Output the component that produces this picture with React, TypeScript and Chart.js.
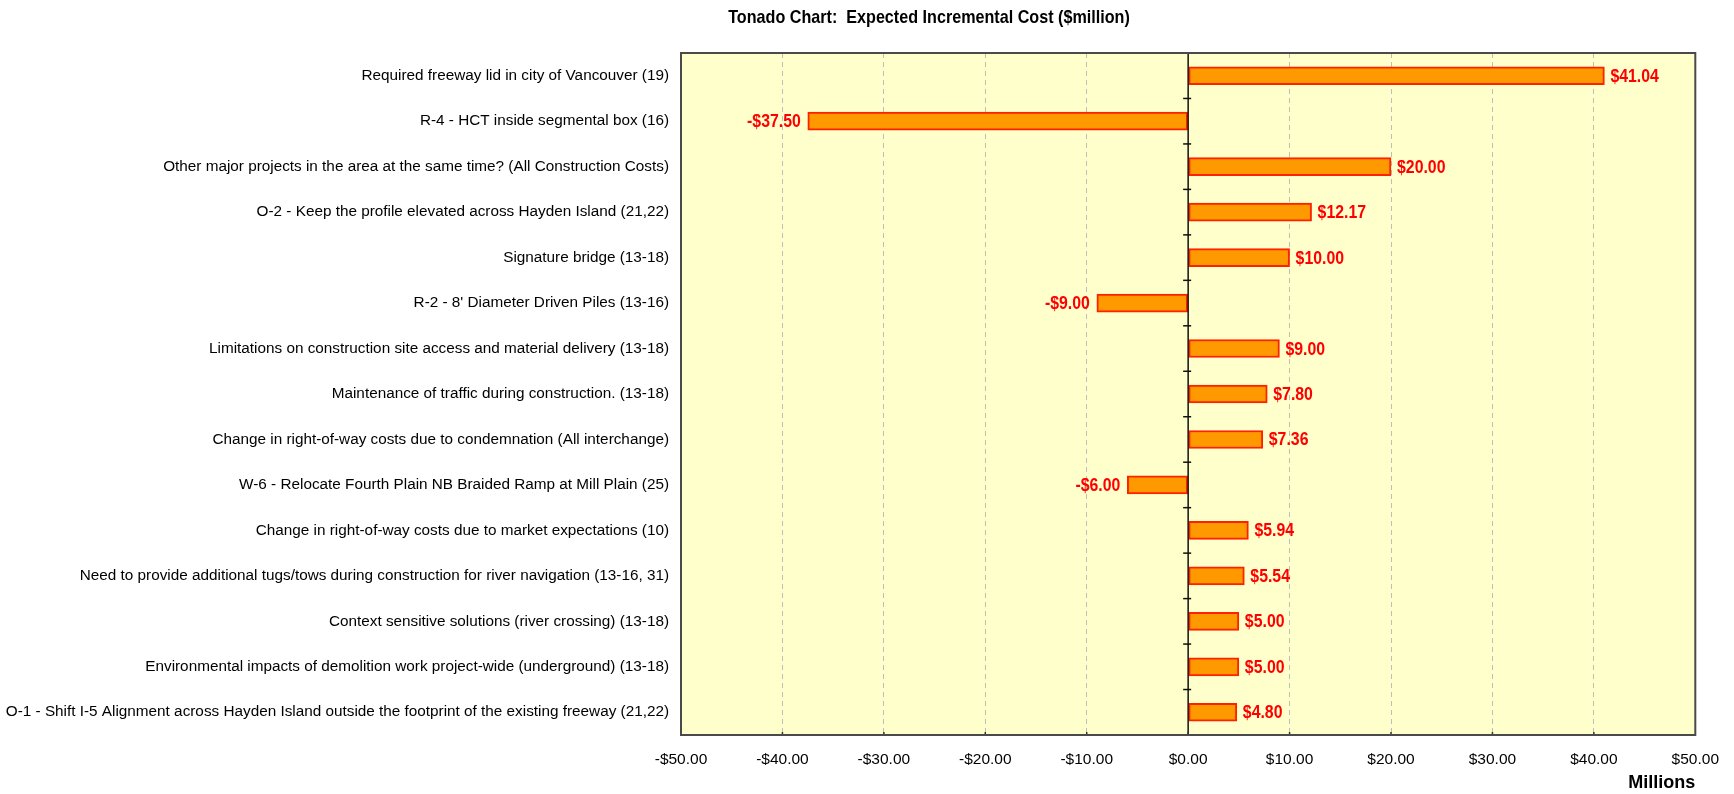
import React, { useEffect, useRef } from "react";
import { Chart, registerables } from "chart.js";

Chart.register(...registerables);

const TITLE = "Tonado Chart:  Expected Incremental Cost ($million)";
const AXIS_TITLE = "Millions";

const categories: string[] = [
  "Required freeway lid in city of Vancouver (19)",
  "R-4 - HCT inside segmental box (16)",
  "Other major projects in the area at the same time? (All Construction Costs)",
  "O-2 - Keep the profile elevated across Hayden Island (21,22)",
  "Signature bridge (13-18)",
  "R-2 - 8' Diameter Driven Piles (13-16)",
  "Limitations on construction site access and material delivery (13-18)",
  "Maintenance of traffic during construction. (13-18)",
  "Change in right-of-way costs due to condemnation (All interchange)",
  "W-6 - Relocate Fourth Plain NB Braided Ramp at Mill Plain (25)",
  "Change in right-of-way costs due to market expectations (10)",
  "Need to provide additional tugs/tows during construction for river navigation (13-16, 31)",
  "Context sensitive solutions (river crossing) (13-18)",
  "Environmental impacts of demolition work project-wide (underground) (13-18)",
  "O-1 - Shift I-5 Alignment across Hayden Island outside the footprint of the existing freeway (21,22)",
];

const costValues: number[] = [
  41.04, -37.5, 20.0, 12.17, 10.0, -9.0, 9.0, 7.8, 7.36, -6.0, 5.94, 5.54, 5.0, 5.0, 4.8,
];

const xMin = -50;
const xMax = 50;
const xStep = 10;

const money = (v: number) => (v < 0 ? "-$" : "$") + Math.abs(v).toFixed(2);

const SANS = "'Liberation Sans', Arial, sans-serif";

// draw text horizontally condensed (emulates a narrow bold face)
function condensedText(ctx: any, text: string, x: number, y: number, align: string, squeeze: number) {
  ctx.save();
  ctx.translate(x, y);
  ctx.scale(squeeze, 1);
  ctx.textAlign = align;
  ctx.fillText(text, 0, 0);
  ctx.restore();
}

const decorPlugin = {
  id: "decor",
  beforeDraw(chart: any) {
    const { ctx, chartArea: a } = chart;
    ctx.save();
    ctx.fillStyle = "#FFFFCC";
    ctx.fillRect(a.left, a.top, a.right - a.left, a.bottom - a.top);
    ctx.restore();
  },
  afterDatasetsDraw(chart: any) {
    const { ctx, chartArea: a } = chart;
    const xs = chart.scales.x;
    const ys = chart.scales.y;
    ctx.save();
    // zero line
    const x0 = xs.getPixelForValue(0);
    ctx.strokeStyle = "#111";
    ctx.lineWidth = 1.5;
    ctx.beginPath();
    ctx.moveTo(x0, a.top);
    ctx.lineTo(x0, a.bottom);
    ctx.stroke();
    // category boundary ticks on zero line
    for (let i = 0; i < categories.length - 1; i++) {
      const yb = (ys.getPixelForValue(i) + ys.getPixelForValue(i + 1)) / 2;
      ctx.beginPath();
      ctx.moveTo(x0 - 5, yb);
      ctx.lineTo(x0 + 3, yb);
      ctx.stroke();
    }
    // bottom ticks
    ctx.strokeStyle = "#333";
    for (let v = xMin + xStep; v < xMax; v += xStep) {
      const xp = xs.getPixelForValue(v);
      ctx.beginPath();
      ctx.moveTo(xp, a.bottom);
      ctx.lineTo(xp, a.bottom - 3);
      ctx.stroke();
    }
    // plot border
    ctx.strokeStyle = "#4a4a4a";
    ctx.lineWidth = 2;
    ctx.strokeRect(a.left, a.top, a.right - a.left, a.bottom - a.top);
    // data labels
    ctx.fillStyle = "#FF0000";
    ctx.font = "bold 18px " + SANS;
    ctx.textBaseline = "middle";
    costValues.forEach((v, i) => {
      const yp = ys.getPixelForValue(i) + 1;
      const xp = xs.getPixelForValue(v);
      if (v >= 0) condensedText(ctx, money(v), xp + 6, yp, "left", 0.88);
      else condensedText(ctx, money(v), xp - 7, yp, "right", 0.88);
    });
    // title
    ctx.fillStyle = "#000";
    ctx.font = "bold 19px " + SANS;
    ctx.textBaseline = "middle";
    condensedText(ctx, TITLE, 929, 18, "center", 0.85);
    ctx.restore();
  },
};

export default function App() {
  const ref = useRef<HTMLCanvasElement | null>(null);
  useEffect(() => {
    if (!ref.current) return;
    const chart = new Chart(ref.current, {
      type: "bar",
      data: {
        labels: categories,
        datasets: [
          {
            data: costValues,
            backgroundColor: "#FF9900",
            borderColor: "#FF2200",
            borderWidth: 2,
            borderSkipped: false,
            barThickness: 18,
          },
        ],
      },
      plugins: [decorPlugin],
      options: {
        indexAxis: "y",
        responsive: false,
        animation: false,
        layout: { padding: { top: 53, right: 37, left: 0, bottom: 0 } },
        plugins: {
          legend: { display: false },
          tooltip: { enabled: false },
          title: { display: false },
        },
        scales: {
          x: {
            type: "linear",
            min: xMin,
            max: xMax,
            afterFit: (s: any) => {
              s.height = 59;
            },
            ticks: {
              stepSize: xStep,
              padding: 15,
              color: "#000",
              font: { family: SANS, size: 15.5 },
              callback: (v: any) => money(Number(v)),
            },
            grid: {
              drawTicks: false,
              lineWidth: 1,
              color: (c: any) => {
                const v = c.tick ? c.tick.value : 0;
                return v === 0 || v === xMin || v === xMax ? "rgba(0,0,0,0)" : "#BDBDBD";
              },
            },
            border: { display: false, dash: [5, 4] },
            title: {
              display: true,
              text: AXIS_TITLE,
              align: "end",
              color: "#000",
              font: { family: SANS, size: 18, weight: "bold" },
              padding: { top: 0, bottom: 0 },
            },
          },
          y: {
            type: "category",
            offset: true,
            afterFit: (s: any) => {
              s.width = 681;
            },
            grid: { display: false, drawTicks: false },
            border: { display: false },
            ticks: {
              padding: 12,
              color: "#000",
              font: { family: SANS, size: 15.3 },
              autoSkip: false,
            },
          },
        },
      },
    } as any);
    return () => chart.destroy();
  }, []);
  return (
    <div style={{ position: "absolute", left: 0, top: 0, width: 1734, height: 794, background: "#fff" }}>
      <canvas ref={ref} width={1734} height={794} style={{ display: "block" }} />
    </div>
  );
}
